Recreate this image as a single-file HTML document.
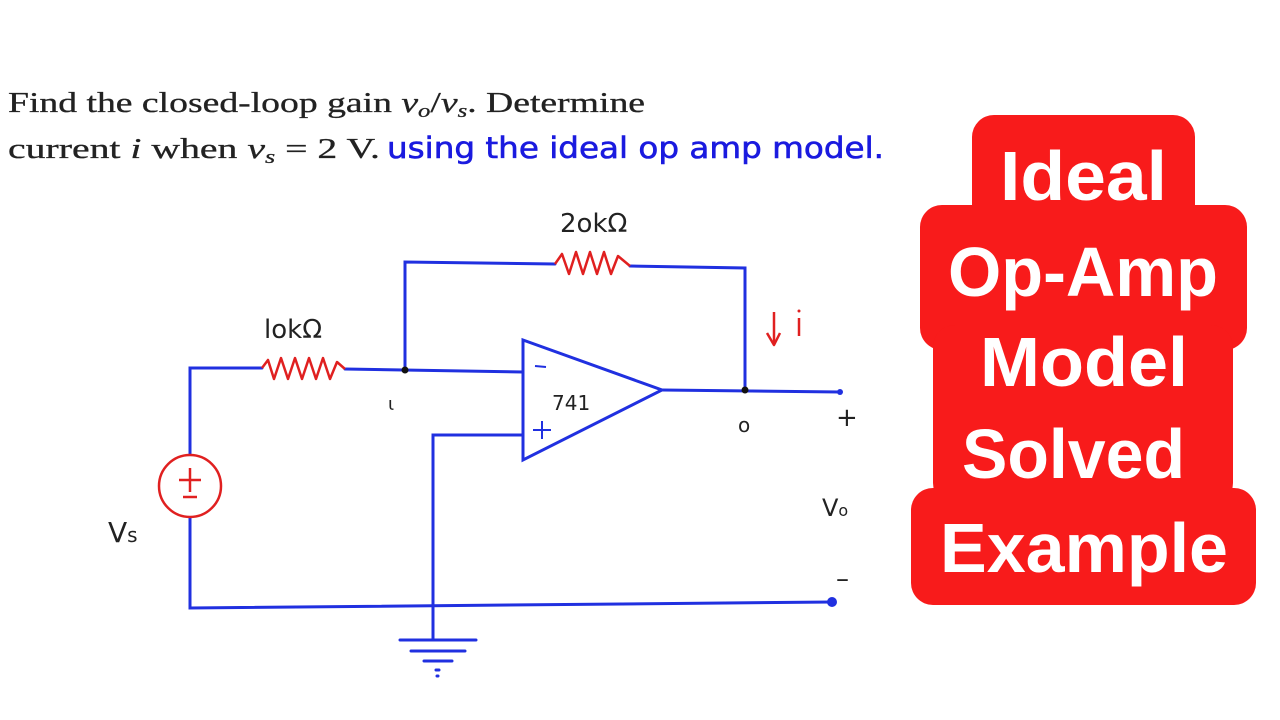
<!DOCTYPE html>
<html><head><meta charset="utf-8"><style>
html,body{margin:0;padding:0;background:#fff;}
svg{display:block;}
</style></head><body>
<svg width="1280" height="720" viewBox="0 0 1280 720" xmlns="http://www.w3.org/2000/svg">
<rect width="1280" height="720" fill="#fff"/>
<!-- problem text -->
<text x="8" y="112" font-family="'Liberation Serif', serif" font-size="29" fill="#222" stroke="#222" stroke-width="0.3" textLength="637" lengthAdjust="spacingAndGlyphs">Find the closed-loop gain <tspan font-style="italic">v</tspan><tspan font-style="italic" font-size="19" dy="5">o</tspan><tspan dy="-5">/</tspan><tspan font-style="italic">v</tspan><tspan font-style="italic" font-size="19" dy="5">s</tspan><tspan dy="-5">. Determine</tspan></text>
<text x="8" y="158" font-family="'Liberation Serif', serif" font-size="29" fill="#222" stroke="#222" stroke-width="0.3" textLength="372" lengthAdjust="spacingAndGlyphs">current <tspan font-style="italic">i</tspan> when <tspan font-style="italic">v</tspan><tspan font-style="italic" font-size="19" dy="5">s</tspan><tspan dy="-5"> = 2 V.</tspan></text>
<text x="387" y="158" font-family="'DejaVu Sans', sans-serif" font-size="29" fill="#1a1adf" stroke="#1a1adf" stroke-width="0.6" textLength="497" lengthAdjust="spacingAndGlyphs">using the ideal op amp model.</text>

<!-- red title blocks -->
<g fill="#f81b1b">
<rect x="972" y="115" width="223" height="150" rx="22"/>
<rect x="920" y="205" width="327" height="145" rx="22"/>
<rect x="933" y="325" width="300" height="180" rx="22"/>
<rect x="911" y="488" width="345" height="117" rx="22"/>
</g>
<g font-family="'Liberation Sans', sans-serif" font-weight="bold" font-size="70" fill="#fff" lengthAdjust="spacingAndGlyphs">
<text x="1000" y="200" textLength="167" lengthAdjust="spacingAndGlyphs">Ideal</text>
<text x="948" y="296" textLength="270" lengthAdjust="spacingAndGlyphs">Op-Amp</text>
<text x="980" y="386" textLength="208" lengthAdjust="spacingAndGlyphs">Model</text>
<text x="962" y="478" textLength="223" lengthAdjust="spacingAndGlyphs">Solved</text>
<text x="940" y="572" textLength="288" lengthAdjust="spacingAndGlyphs">Example</text>
</g>

<!-- circuit wires -->
<g stroke="#2030e0" stroke-width="3" fill="none" stroke-linecap="round">
<polyline points="190,454 190,368 262,368"/>
<line x1="345" y1="369" x2="523" y2="372"/>
<polyline points="405,370 405,262 555,264"/>
<polyline points="630,266 745,268 745,390"/>
<polygon points="523,340 662,390 523,460"/>
<line x1="662" y1="390" x2="840" y2="392"/>
<polyline points="523,435 433,435 433,640"/>
<polyline points="190,518 190,608 832,602"/>
<line x1="400" y1="640" x2="476" y2="640"/>
<line x1="411" y1="651" x2="465" y2="651"/>
<line x1="424" y1="661" x2="452" y2="661"/>
<line x1="436" y1="670" x2="439" y2="670"/>
<line x1="437" y1="676" x2="438" y2="676"/>
</g>
<g fill="#2030e0"><circle cx="840" cy="392" r="3"/><circle cx="832" cy="602" r="5"/></g>
<g fill="#111"><circle cx="405" cy="370" r="3.5"/><circle cx="745" cy="390" r="3.5"/></g>
<!-- op amp signs -->
<g stroke="#2030e0" stroke-width="2">
<line x1="535" y1="366" x2="546" y2="367"/>
<line x1="533" y1="430" x2="551" y2="430"/><line x1="542" y1="421" x2="542" y2="439"/>
</g>
<!-- resistors -->
<g stroke="#e02020" stroke-width="2.5" fill="none" stroke-linejoin="round">
<polyline points="262,368 268,360 274,379 281,358 288,379 295,358 302,379 309,358 316,379 323,358 330,379 337,362 345,369"/>
<polyline points="555,264 562,254 569,274 576,252 583,274 590,252 597,274 604,252 611,274 618,256 630,266"/>
<circle cx="190" cy="486" r="31"/>
<line x1="190" y1="468" x2="190" y2="492"/><line x1="179" y1="480" x2="201" y2="480"/>
<line x1="183" y1="497" x2="197" y2="497"/>
<line x1="774" y1="312" x2="774" y2="345"/>
<polyline points="767,333 774,345 780,333"/>
<line x1="799" y1="318" x2="799" y2="336"/>
</g>
<circle cx="799" cy="311" r="1.5" fill="#e02020"/>
<!-- labels -->
<g font-family="'DejaVu Sans', sans-serif" fill="#222">
<text x="264" y="338" font-size="26">lokΩ</text>
<text x="560" y="232" font-size="26">2okΩ</text>
<text x="552" y="410" font-size="20">741</text>
<text x="388" y="410" font-size="18">ι</text>
<text x="738" y="432" font-size="20">o</text>
<text x="836" y="426" font-size="26">+</text>
<text x="836" y="587" font-size="26">–</text>
<text x="822" y="516" font-size="24">V<tspan font-size="16">o</tspan></text>
<text x="108" y="542" font-size="28">V<tspan font-size="20">s</tspan></text>
</g>
</svg>
</body></html>
